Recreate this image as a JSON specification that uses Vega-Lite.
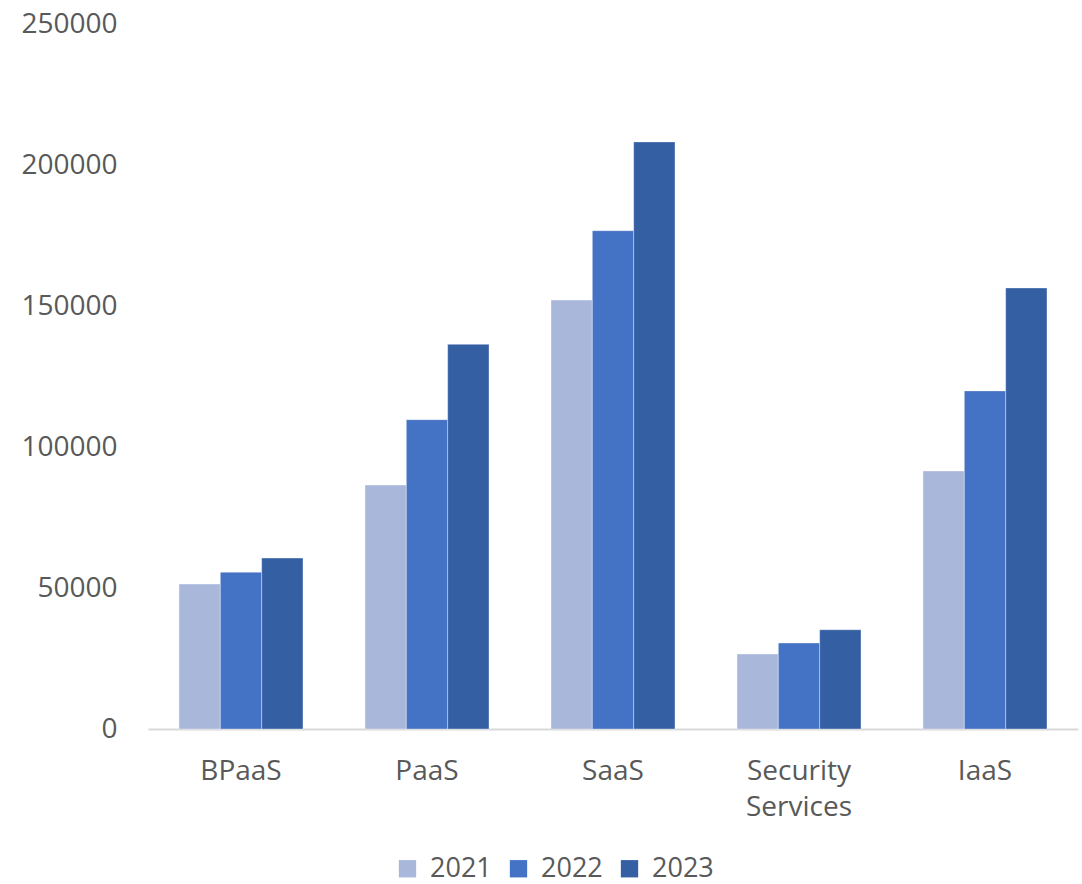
{
  "$schema": "https://vega.github.io/schema/vega-lite/v6.json",
  "autosize": {"type": "none"},
  "padding": {"left": 148, "top": 24, "right": 4, "bottom": 155},
  "width": 930,
  "height": 705,
  "background": "white",
  "config": {
    "view": {"stroke": null},
    "font": "Open Sans",
    "axis": {"labelFont": "Open Sans", "labelColor": "#595959", "labelFontSize": 28},
    "legend": {"labelFont": "Open Sans", "labelColor": "#595959", "labelFontSize": 27}
  },
  "data": {
    "values": [
      {"category": "BPaaS", "year": "2021", "value": 51400},
      {"category": "BPaaS", "year": "2022", "value": 55600},
      {"category": "BPaaS", "year": "2023", "value": 60600},
      {"category": "PaaS", "year": "2021", "value": 86500},
      {"category": "PaaS", "year": "2022", "value": 109700},
      {"category": "PaaS", "year": "2023", "value": 136400},
      {"category": "SaaS", "year": "2021", "value": 152100},
      {"category": "SaaS", "year": "2022", "value": 176700},
      {"category": "SaaS", "year": "2023", "value": 208200},
      {"category": "Security Services", "year": "2021", "value": 26600},
      {"category": "Security Services", "year": "2022", "value": 30500},
      {"category": "Security Services", "year": "2023", "value": 35200},
      {"category": "IaaS", "year": "2021", "value": 91500},
      {"category": "IaaS", "year": "2022", "value": 119900},
      {"category": "IaaS", "year": "2023", "value": 156400}
    ]
  },
  "mark": {"type": "bar", "stroke": "white", "strokeWidth": 0.6, "strokeOpacity": 0.6},
  "encoding": {
    "x": {
      "field": "category",
      "type": "nominal",
      "sort": ["BPaaS", "PaaS", "SaaS", "Security Services", "IaaS"],
      "scale": {"paddingInner": 0.3333, "paddingOuter": 0.1667},
      "axis": {
        "title": null,
        "labelAngle": 0,
        "ticks": false,
        "domainColor": "#D9D9D9",
        "domainWidth": 2,
        "labelPadding": 28,
        "labelLineHeight": 36,
        "labelExpr": "datum.label == 'Security Services' ? ['Security', 'Services'] : datum.label"
      }
    },
    "xOffset": {"field": "year", "type": "nominal", "scale": {"paddingInner": 0, "paddingOuter": 0}},
    "y": {
      "field": "value",
      "type": "quantitative",
      "scale": {"domain": [0, 250000], "nice": false},
      "axis": {
        "title": null,
        "grid": false,
        "domain": false,
        "ticks": false,
        "values": [0, 50000, 100000, 150000, 200000, 250000],
        "format": "d",
        "labelPadding": 31
      }
    },
    "color": {
      "field": "year",
      "type": "nominal",
      "scale": {"domain": ["2021", "2022", "2023"], "range": ["#A9B7DB", "#4472C4", "#355FA3"]},
      "legend": {
        "title": null,
        "orient": "none",
        "direction": "horizontal",
        "legendX": 246,
        "legendY": 831,
        "symbolType": "square",
        "symbolSize": 300,
        "symbolStrokeWidth": 0,
        "labelOffset": 9,
        "columnPadding": 13
      }
    }
  }
}
